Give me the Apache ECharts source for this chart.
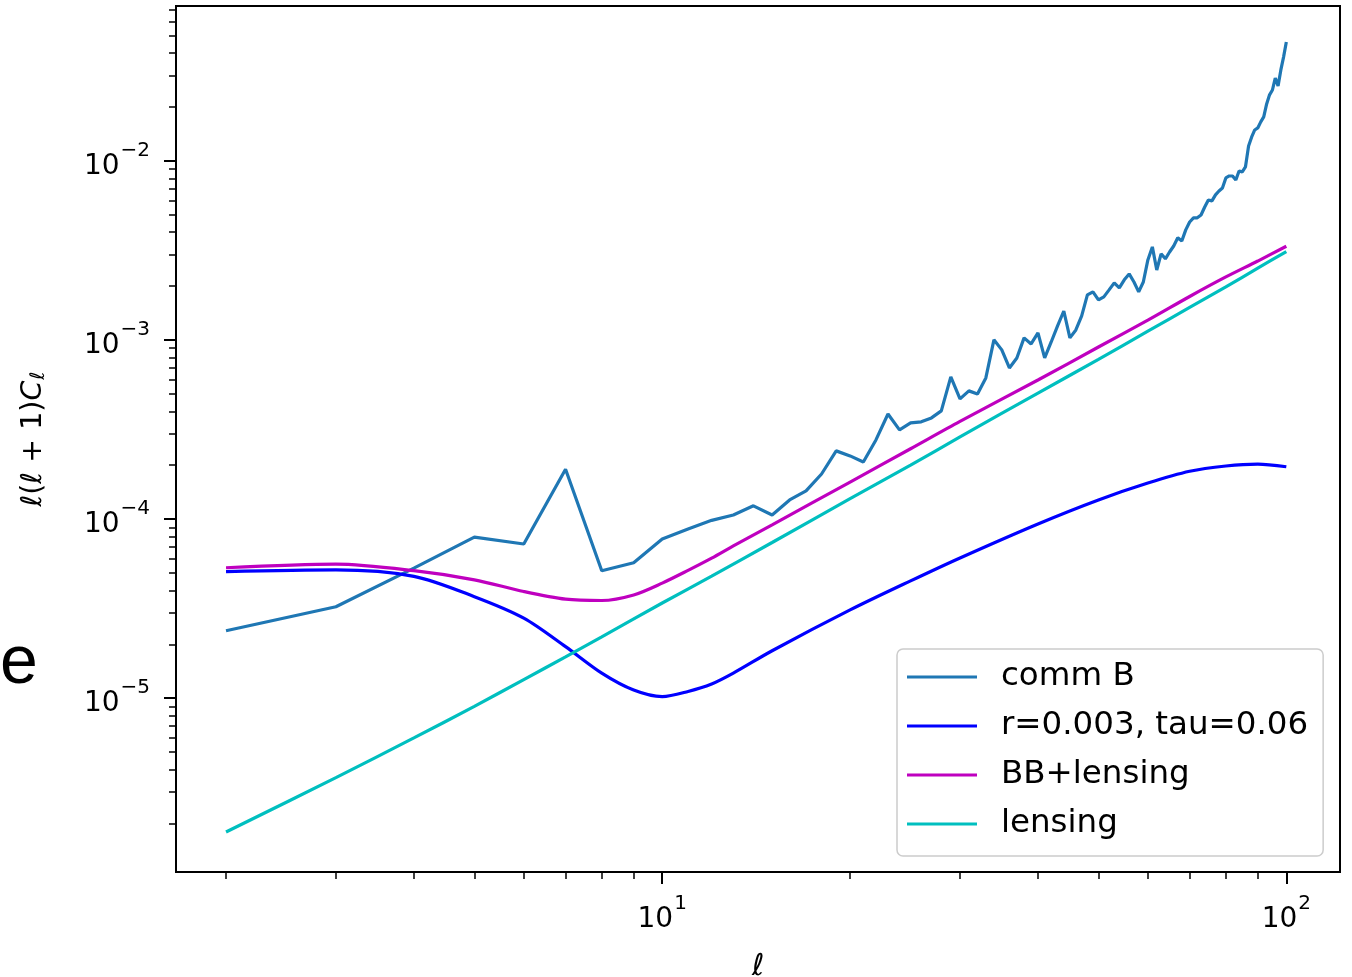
<!DOCTYPE html>
<html><head><meta charset="utf-8">
<script src="https://cdn.jsdelivr.net/npm/echarts@6/dist/echarts.min.js"></script>
<style>html,body{margin:0;padding:0;background:#fff;overflow:hidden}#c{width:1352px;height:977px}</style>
</head><body><div id="c"></div>
<script>
// ---- data ----
const ellCommB = [];
for (let l = 2; l <= 100; l++) ellCommB.push(l);
const commB = [
  2.38e-5, 3.24e-5, 5.32e-5, 7.93e-5, 7.26e-5, 1.90e-4, 5.15e-5, 5.71e-5, 7.74e-5,          // 2-10
  8.81e-5, 9.84e-5, 1.054e-4, 1.186e-4, 1.054e-4, 1.279e-4, 1.436e-4, 1.786e-4, 2.404e-4, 2.254e-4, // 11-20
  2.084e-4, 2.767e-4, 3.864e-4, 3.148e-4, 3.443e-4, 3.491e-4, 3.673e-4, 4.018e-4, 6.22e-4, 4.69e-4,  // 21-30
  5.20e-4, 5.00e-4, 6.14e-4, 1.002e-3, 8.81e-4, 6.98e-4, 7.94e-4, 1.028e-3, 9.51e-4, 1.096e-3,     // 31-40
  7.94e-4, 9.75e-4, 1.199e-3, 1.452e-3, 1.028e-3, 1.138e-3, 1.365e-3, 1.786e-3, 1.858e-3, 1.675e-3, // 41-50
  1.742e-3, 1.905e-3, 2.084e-3, 1.954e-3, 2.168e-3, 2.339e-3, 2.109e-3, 1.858e-3, 2.109e-3, 2.80e-3, // 51-60
  3.31e-3, 2.46e-3, 3.03e-3, 2.84e-3, 3.10e-3, 3.35e-3, 3.72e-3, 3.57e-3, 4.12e-3, 4.56e-3,       // 61-70
  4.81e-3, 4.81e-3, 4.99e-3, 5.53e-3, 6.05e-3, 5.98e-3, 6.46e-3, 6.79e-3, 7.06e-3, 8.04e-3,       // 71-80
  8.24e-3, 8.24e-3, 7.83e-3, 8.79e-3, 8.69e-3, 9.25e-3, 1.213e-2, 1.361e-2, 1.489e-2, 1.528e-2,   // 81-90
  1.652e-2, 1.762e-2, 2.080e-2, 2.339e-2, 2.489e-2, 2.904e-2, 2.624e-2, 3.221e-2, 3.811e-2, 4.613e-2 // 91-100
];
const ellModel = [2,3,4,5,6,7,8,9,10,11,12,13,15,20,25,30,40,50,60,70,80,90,100];
const rTau = [5.09e-5,5.20e-5,4.79e-5,3.69e-5,2.80e-5,1.94e-5,1.38e-5,1.11e-5,1.02e-5,1.09e-5,1.20e-5,1.38e-5,1.84e-5,3.11e-5,4.52e-5,6.07e-5,9.40e-5,1.28e-4,1.59e-4,1.85e-4,1.98e-4,2.03e-4,1.96e-4];
const bbLensing = [5.35e-5,5.60e-5,5.15e-5,4.58e-5,3.94e-5,3.57e-5,3.51e-5,3.77e-5,4.39e-5,5.17e-5,6.05e-5,7.08e-5,9.29e-5,1.61e-4,2.47e-4,3.51e-4,5.98e-4,9.14e-4,1.29e-3,1.75e-3,2.25e-3,2.76e-3,3.34e-3];
const ellLens = [2,3,4,5,6,7,8,10,12,15,20,25,30,40,50,60,70,80,90,100];
const lensing = [1.79e-6,3.6e-6,6.0e-6,9.0e-6,1.27e-5,1.70e-5,2.2e-5,3.4e-5,4.8e-5,7.4e-5,1.30e-4,2.0e-4,2.88e-4,5.05e-4,7.8e-4,1.12e-3,1.52e-3,1.98e-3,2.52e-3,3.12e-3];

const seriesNames = ['comm B', 'r=0.003, tau=0.06', 'BB+lensing', 'lensing'];
const seriesColors = ['#1f77b4', '#0000ff', '#bf00bf', '#00bfbf'];

const xMajor = [10, 100];
const yMajor = [1e-5, 1e-4, 1e-3, 1e-2];
const xRange = [1.663, 121.9];
const yRange = [1.07e-6, 7.33e-2];
// ---- end data ----

const L = Math.log10;
function pairs(xs, ys) { return xs.map((x, i) => [L(x), L(ys[i])]); }
function minorTicks(lo, hi) {
  const out = [];
  for (let e = Math.floor(L(lo)); e <= Math.ceil(L(hi)); e++) {
    for (let k = 2; k <= 9; k++) {
      const v = L(k) + e;
      if (v > L(lo) && v < L(hi)) out.push(v);
    }
  }
  return out;
}
function powLabel(v) {
  const e = Math.round(v);
  const s = String(e).replace('-', '−');
  return '{b|10}{s|' + s + '}';
}
const richLab = {
  b: {fontSize: 28, fontFamily: 'DejaVu Sans', color: '#000', verticalAlign: 'bottom', lineHeight: 40},
  s: {fontSize: 20, fontFamily: 'DejaVu Sans', color: '#000', verticalAlign: 'top', lineHeight: 40, padding: [0,0,0,1]}
};

const xmin = L(xRange[0]), xmax = L(xRange[1]);
const ymin = L(yRange[0]), ymax = L(yRange[1]);
const xMaj = xMajor.map(L), yMaj = yMajor.map(L);

const chart = echarts.init(document.getElementById('c'), null, {renderer: 'canvas'});
const tickLine = w => ({color: '#000', width: w});
chart.setOption({
  animation: false,
  backgroundColor: '#fff',
  grid: {left: 176, right: 12, top: 6, bottom: 105, show: true, borderColor: '#000', borderWidth: 2,
         backgroundColor: 'transparent', containLabel: false, outerBoundsMode: 'none'},
  xAxis: [
    {type: 'value', min: xmin, max: xmax, position: 'bottom',
     axisLine: {show: false}, splitLine: {show: false},
     axisTick: {show: true, length: 12, lineStyle: tickLine(2), customValues: xMaj},
     axisLabel: {show: true, customValues: xMaj, margin: 22, formatter: powLabel, rich: richLab},
     name: 'ℓ', nameLocation: 'middle', nameGap: 80,
     nameTextStyle: {fontSize: 30, fontStyle: 'italic', fontFamily: 'DejaVu Sans', color: '#000'}},
    {type: 'value', min: xmin, max: xmax, position: 'bottom',
     axisLine: {show: false}, splitLine: {show: false}, axisLabel: {show: false},
     axisTick: {show: true, length: 7, lineStyle: tickLine(1.5), customValues: minorTicks(xRange[0], xRange[1])}}
  ],
  yAxis: [
    {type: 'value', min: ymin, max: ymax, position: 'left',
     axisLine: {show: false}, splitLine: {show: false},
     axisTick: {show: true, length: 12, lineStyle: tickLine(2), customValues: yMaj},
     axisLabel: {show: true, customValues: yMaj, margin: 26, formatter: powLabel, rich: richLab},
     name: '{i|ℓ}{r|(}{i|ℓ}{r| + 1)}{i|C}{sub|ℓ}', nameLocation: 'middle', nameGap: 127, nameRotate: 90,
     nameTextStyle: {rich: {
       i: {fontSize: 28.5, fontStyle: 'italic', fontFamily: 'DejaVu Sans', color: '#000'},
       r: {fontSize: 28.5, fontFamily: 'DejaVu Sans', color: '#000'},
       sub: {fontSize: 20, fontStyle: 'italic', fontFamily: 'DejaVu Sans', color: '#000', verticalAlign: 'bottom', padding: [10,0,0,1]}
     }}},
    {type: 'value', min: ymin, max: ymax, position: 'left',
     axisLine: {show: false}, splitLine: {show: false}, axisLabel: {show: false},
     axisTick: {show: true, length: 7, lineStyle: tickLine(1.5), customValues: minorTicks(yRange[0], yRange[1])}}
  ],
  legend: {
    orient: 'vertical', left: 897, top: 649,
    data: seriesNames,
    icon: 'rect', itemWidth: 70, itemHeight: 3, itemGap: 13,
    padding: [10, 15, 14, 10],
    backgroundColor: 'rgba(255,255,255,0.85)', borderColor: '#cccccc', borderWidth: 1.5, borderRadius: 6,
    textStyle: {fontSize: 32.5, fontFamily: 'DejaVu Sans', color: '#000', lineHeight: 36, padding: [0, 0, 0, 19]}
  },
  series: [
    {name: seriesNames[0], type: 'line', data: pairs(ellCommB, commB), showSymbol: false, symbol: 'none',
     lineStyle: {color: seriesColors[0], width: 3.2}, itemStyle: {color: seriesColors[0]}, z: 2},
    {name: seriesNames[1], type: 'line', data: pairs(ellModel, rTau), showSymbol: false, symbol: 'none', smooth: 0.3,
     lineStyle: {color: seriesColors[1], width: 3.2}, itemStyle: {color: seriesColors[1]}, z: 3},
    {name: seriesNames[2], type: 'line', data: pairs(ellModel, bbLensing), showSymbol: false, symbol: 'none', smooth: 0.3,
     lineStyle: {color: seriesColors[2], width: 3.2}, itemStyle: {color: seriesColors[2]}, z: 4},
    {name: seriesNames[3], type: 'line', data: pairs(ellLens, lensing), showSymbol: false, symbol: 'none', smooth: 0.3,
     lineStyle: {color: seriesColors[3], width: 3.2}, itemStyle: {color: seriesColors[3]}, z: 5}
  ],
  graphic: [
    {type: 'text', left: 0, top: 630, style: {text: 'e', fontSize: 68, fontFamily: 'Liberation Sans', fill: '#000'}}
  ]
});
</script></body></html>
